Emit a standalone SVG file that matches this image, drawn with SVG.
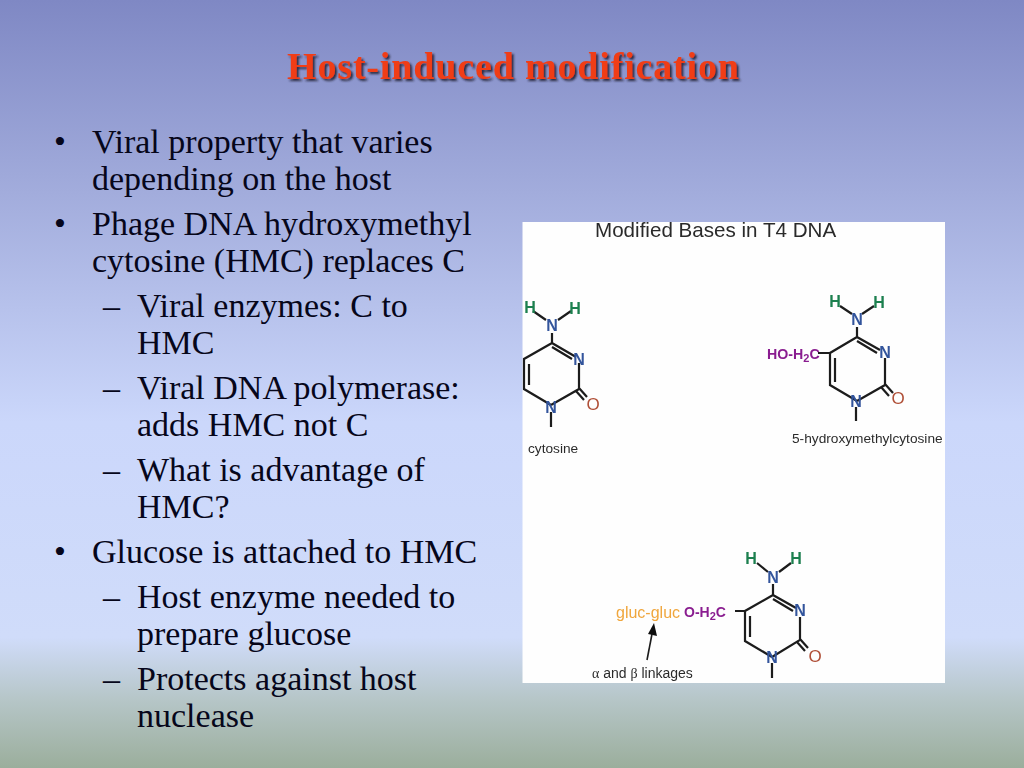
<svg xmlns="http://www.w3.org/2000/svg" width="1024" height="768" viewBox="0 0 1024 768">
<style>
.b{font-family:"Liberation Serif","Times New Roman",serif;font-size:34px;fill:#06061a}
.t{font-family:"Liberation Serif","Times New Roman",serif;font-size:38px;font-weight:bold;fill:#f03c14}
.s{font-family:"Liberation Sans",Arial,sans-serif}
.bond{fill:none;stroke:#1c1c1c;stroke-width:2.2}
.at{font-family:"Liberation Sans",Arial,sans-serif;font-size:16px;font-weight:bold;text-anchor:middle}
.h{fill:#1f8050}.n{fill:#33549c}.o{fill:#b05038;font-size:17px;font-weight:normal}.p{fill:#8a1f90}.y{fill:#f0a63c}
.lab{font-family:"Liberation Sans",Arial,sans-serif;font-size:13.7px;fill:#2c2c2c}
</style>
<defs>
<linearGradient id="bg" x1="0" y1="0" x2="0" y2="1">
<stop offset="0" stop-color="#7f88c4"/>
<stop offset="0.25" stop-color="#a2acdc"/>
<stop offset="0.55" stop-color="#cbd7fb"/>
<stop offset="0.83" stop-color="#d0dcfa"/>
<stop offset="0.91" stop-color="#b6c6c8"/>
<stop offset="1" stop-color="#9bae9c"/>
</linearGradient>
<filter id="sh" x="-5%" y="-20%" width="110%" height="140%"><feDropShadow dx="2" dy="2" stdDeviation="0.8" flood-color="#1a1a30" flood-opacity="0.9"/></filter>
<filter id="soft"><feGaussianBlur stdDeviation="0.35"/></filter>
</defs>
<rect id="background" width="1024" height="768" fill="url(#bg)"/>
<g id="title"><text class="t" x="513" y="79" text-anchor="middle" textLength="452" filter="url(#sh)">Host-induced modification</text></g>
<g id="bullets" transform="translate(0,-1.5)">
<text class="b" x="54" y="154">•</text><text class="b" x="92" y="154">Viral property that varies</text>
<text class="b" x="92" y="191">depending on the host</text>
<text class="b" x="54" y="236">•</text><text class="b" x="92" y="236">Phage DNA hydroxymethyl</text>
<text class="b" x="92" y="273">cytosine (HMC) replaces C</text>
<text class="b" x="103" y="318">–</text><text class="b" x="137" y="318">Viral enzymes: C to</text>
<text class="b" x="137" y="355">HMC</text>
<text class="b" x="103" y="400">–</text><text class="b" x="137" y="400">Viral DNA polymerase:</text>
<text class="b" x="137" y="437">adds HMC not C</text>
<text class="b" x="103" y="482">–</text><text class="b" x="137" y="482">What is advantage of</text>
<text class="b" x="137" y="519">HMC?</text>
<text class="b" x="54" y="564">•</text><text class="b" x="92" y="564">Glucose is attached to HMC</text>
<text class="b" x="103" y="609">–</text><text class="b" x="137" y="609">Host enzyme needed to</text>
<text class="b" x="137" y="646">prepare glucose</text>
<text class="b" x="103" y="691">–</text><text class="b" x="137" y="691">Protects against host</text>
<text class="b" x="137" y="728">nuclease</text>
</g>
<g id="figure" filter="url(#soft)">
<rect x="522.5" y="222" width="422.5" height="461" fill="#fefefe"/>
<text class="s" x="595" y="237" font-size="20.6" fill="#2a2a2a">Modified Bases in T4 DNA</text>
<g id="cytosine">
<path class="bond" d="M533 311L546 320M571 311L558 320M552 333V343L576 357M579 363V389L551 405M579 388L587 397M576 391L584 400M551 405L524 389V359L552 343M529 364V385M552 347L572 359M551 412V427"/>
<text class="at h" x="530" y="313">H</text><text class="at h" x="575" y="314">H</text>
<text class="at n" x="552" y="331">N</text><text class="at n" x="579" y="365">N</text><text class="at n" x="551" y="413">N</text><text class="at o" x="593" y="410">O</text>
<text class="lab" x="528" y="453">cytosine</text>
</g>
<g id="hydroxymethylcytosine">
<path class="bond" d="M840 306L852 314M874 306L862 314M857 327V337L880 350M885 358V385L857 401M885 384L893 393M881 387L889 396M857 401L830 385V353L857 337M835 358V382M857 341L877 353M856 407V421M818 353H830"/>
<text class="at h" x="835" y="307">H</text><text class="at h" x="879" y="308">H</text>
<text class="at n" x="857" y="325">N</text><text class="at n" x="885" y="358">N</text><text class="at n" x="856" y="407">N</text><text class="at o" x="898" y="404">O</text>
<text class="at p" x="767" y="359" style="text-anchor:start;font-size:14.2px">HO-H<tspan font-size="11" dy="3">2</tspan><tspan dy="-3">C</tspan></text>
<text class="lab" x="792" y="443">5-hydroxymethylcytosine</text>
</g>
<g id="glucosylated-hmc">
<path class="bond" d="M757 563L768 572M791 563L779 572M773 584V595L796 608M800 617V640L772 657M800 639L808 648M797 642L805 651M772 657L745 641V611L773 595M750 616V637M773 599L793 611M772 663V678M735 611H745"/>
<text class="at h" x="751" y="564">H</text><text class="at h" x="796" y="564">H</text>
<text class="at n" x="773" y="583">N</text><text class="at n" x="800" y="616">N</text><text class="at n" x="772" y="663">N</text><text class="at o" x="815" y="662">O</text>
<text class="s y" x="616" y="618" font-size="16">gluc-gluc</text>
<text class="at p" x="684" y="617" style="text-anchor:start;font-size:14px">O-H<tspan font-size="11" dy="3">2</tspan><tspan dy="-3">C</tspan></text>
<path d="M647 660L652 634" fill="none" stroke="#1c1c1c" stroke-width="1.6"/>
<path d="M654 623L657 636L648 634Z" fill="#111"/>
<text x="592" y="678" font-size="14" fill="#2c2c2c" class="s"><tspan font-family="Liberation Serif,serif">α</tspan> and <tspan font-family="Liberation Serif,serif">β</tspan> linkages</text>
</g>
</g>
</svg>
